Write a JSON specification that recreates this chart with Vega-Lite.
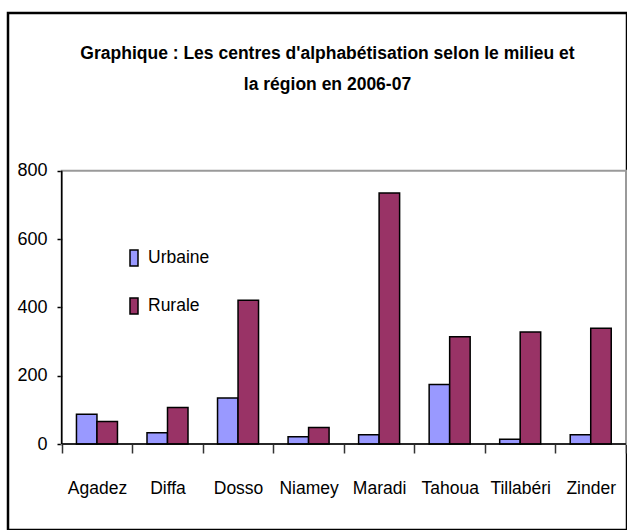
{
  "$schema": "https://vega.github.io/schema/vega-lite/v6.json",
  "width": 619,
  "height": 517,
  "autosize": "none",
  "padding": {"left": 8, "top": 13, "right": 0, "bottom": 0},
  "background": "white",
  "title": {
    "text": ["Graphique : Les centres d'alphabétisation selon le milieu et", "la région en 2006-07"],
    "font": "Liberation Sans Narrow, Liberation Sans, Arial, sans-serif",
    "fontSize": 17.5,
    "fontWeight": "bold",
    "lineHeight": 31,
    "color": "black",
    "anchor": "middle",
    "dx": 10,
    "dy": 84
  },
  "config": {
    "font": "Liberation Sans Narrow, Liberation Sans, Arial, sans-serif",
    "view": {"stroke": "black", "strokeWidth": 2.5}
  },
  "resolve": {"scale": {"x": "independent", "y": "independent"}},
  "layer": [
    {
      "data": {"values": [{"x0": 0, "x1": 8, "y0": 0, "y1": 800}]},
      "mark": {"type": "rect", "filled": false, "stroke": "#9a9a9a", "strokeWidth": 2},
      "encoding": {
        "x": {"field": "x0", "type": "quantitative", "scale": {"domain": [-0.7613, 8.0139], "nice": false, "zero": false}, "axis": null},
        "x2": {"field": "x1"},
        "y": {"field": "y0", "type": "quantitative", "scale": {"domain": [-251.7, 1261.6], "nice": false, "zero": false}, "axis": null},
        "y2": {"field": "y1"}
      }
    },
    {
      "data": {
        "values": [
          {"region": "Agadez", "milieu": "Urbaine", "value": 87},
          {"region": "Agadez", "milieu": "Rurale", "value": 66},
          {"region": "Diffa", "milieu": "Urbaine", "value": 33},
          {"region": "Diffa", "milieu": "Rurale", "value": 107},
          {"region": "Dosso", "milieu": "Urbaine", "value": 135},
          {"region": "Dosso", "milieu": "Rurale", "value": 421},
          {"region": "Niamey", "milieu": "Urbaine", "value": 21},
          {"region": "Niamey", "milieu": "Rurale", "value": 48},
          {"region": "Maradi", "milieu": "Urbaine", "value": 27},
          {"region": "Maradi", "milieu": "Rurale", "value": 735},
          {"region": "Tahoua", "milieu": "Urbaine", "value": 174},
          {"region": "Tahoua", "milieu": "Rurale", "value": 314},
          {"region": "Tillabéri", "milieu": "Urbaine", "value": 14},
          {"region": "Tillabéri", "milieu": "Rurale", "value": 328},
          {"region": "Zinder", "milieu": "Urbaine", "value": 27},
          {"region": "Zinder", "milieu": "Rurale", "value": 339}
        ]
      },
      "mark": {"type": "bar", "stroke": "black", "strokeWidth": 1.5},
      "encoding": {
        "x": {
          "field": "region",
          "type": "nominal",
          "sort": ["Agadez", "Diffa", "Dosso", "Niamey", "Maradi", "Tahoua", "Tillabéri", "Zinder"],
          "scale": {"paddingInner": 0, "paddingOuter": 0.3877, "align": 0.9817},
          "axis": {
            "title": null,
            "orient": "bottom",
            "offset": -86,
            "domain": false,
            "tickBand": "extent",
            "tickSize": 9,
            "tickColor": "#333333",
            "tickWidth": 1.5,
            "labelFontSize": 17.5,
            "labelColor": "black",
            "labelPadding": 26,
            "labelAngle": 0
          }
        },
        "xOffset": {
          "field": "milieu",
          "sort": ["Urbaine", "Rurale"],
          "scale": {"paddingInner": 0, "paddingOuter": 0.72}
        },
        "y": {
          "field": "value",
          "type": "quantitative",
          "scale": {"domain": [-251.7, 1261.6], "nice": false, "zero": false},
          "axis": {
            "title": null,
            "values": [0, 200, 400, 600, 800],
            "offset": -54,
            "domain": false,
            "grid": false,
            "tickSize": 5,
            "tickColor": "black",
            "tickWidth": 1.5,
            "labelFontSize": 18,
            "labelPadding": 10,
            "labelColor": "black"
          }
        },
        "y2": {"datum": 0},
        "color": {
          "field": "milieu",
          "type": "nominal",
          "sort": ["Urbaine", "Rurale"],
          "scale": {"domain": ["Urbaine", "Rurale"], "range": ["#9999FF", "#993366"]},
          "legend": {
            "title": null,
            "orient": "none",
            "legendX": 117,
            "legendY": 236,
            "padding": 0,
            "symbolType": "M-0.5,-1H0.5V1H-0.5Z",
            "symbolSize": 256,
            "symbolStrokeColor": "black",
            "symbolStrokeWidth": 1.5,
            "labelFontSize": 17.5,
            "labelColor": "black",
            "labelOffset": 5,
            "rowPadding": 26
          }
        }
      }
    },
    {
      "data": {"values": [{"x0": 0, "x1": 8, "y": 0}]},
      "mark": {"type": "rule", "stroke": "black", "strokeWidth": 1.5},
      "encoding": {
        "x": {"field": "x0", "type": "quantitative", "scale": {"domain": [-0.7613, 8.0139], "nice": false, "zero": false}, "axis": null},
        "x2": {"field": "x1"},
        "y": {"field": "y", "type": "quantitative", "scale": {"domain": [-251.7, 1261.6], "nice": false, "zero": false}, "axis": null}
      }
    },
    {
      "data": {"values": [{"x": 0, "y0": 0, "y1": 800}]},
      "mark": {"type": "rule", "stroke": "black", "strokeWidth": 1.5},
      "encoding": {
        "x": {"field": "x", "type": "quantitative", "scale": {"domain": [-0.7613, 8.0139], "nice": false, "zero": false}, "axis": null},
        "y": {"field": "y0", "type": "quantitative", "scale": {"domain": [-251.7, 1261.6], "nice": false, "zero": false}, "axis": null},
        "y2": {"field": "y1"}
      }
    }
  ]
}
